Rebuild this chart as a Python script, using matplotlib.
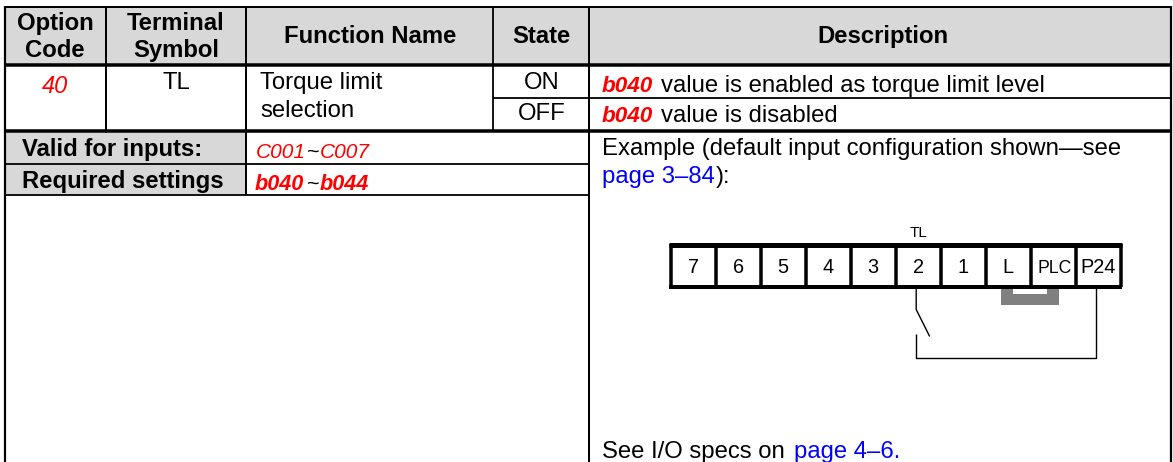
import matplotlib
matplotlib.use("Agg")
import matplotlib.pyplot as plt
from matplotlib.patches import Rectangle

plt.rcParams['font.family'] = ['Liberation Sans', 'DejaVu Sans']

# table contents
header_labels = ["Option\nCode", "Terminal\nSymbol", "Function Name", "State", "Description"]
option_code = "40"
terminal_symbol = "TL"
function_name = ["Torque limit", "selection"]
states = ["ON", "OFF"]
state_params = ["b040", "b040"]
state_texts = ["value is enabled as torque limit level", "value is disabled"]
side_labels = ["Valid for inputs:", "Required settings"]
side_ranges = [("C001", "C007"), ("b040", "b044")]
example_text = "Example (default input configuration shown\u2014see"
example_link = "page 3\u201384"
see_text = "See I/O specs on"
see_link = "page 4\u20136."

# terminal strip of the wiring example
terminals = ["7", "6", "5", "4", "3", "2", "1", "L", "PLC", "P24"]
switch_terminal = "2"
switch_label = "TL"

GRAY = '#d8d8d8'
RED = '#ff0000'
BLUE = '#0000ff'
FS = 17.2


def hline(ax, y, x0, x1, px=1.5, color='black'):
    ax.plot([x0, x1], [y, y], color=color, lw=px * 0.72, solid_capstyle='butt')


def vline(ax, x, y0, y1, px=1.5, color='black'):
    ax.plot([x, x], [y0, y1], color=color, lw=px * 0.72, solid_capstyle='butt')


def seg_text(ax, x, y, s, size=16.2, ha='left', weight='bold'):
    # keypad codes, no seven segment font is installed
    ax.text(x, y, s, color=RED, fontsize=size, fontweight=weight, style='italic', ha=ha, va='baseline')


fig = plt.figure(figsize=(11.73, 4.62), dpi=100)
ax = fig.add_axes([0, 0, 1, 1])
ax.set_xlim(0, 1173)
ax.set_ylim(462, 0)
ax.axis('off')

# shaded cells
ax.add_patch(Rectangle((5, 7), 1166, 57, color=GRAY, lw=0))
ax.add_patch(Rectangle((5, 131), 241, 64, color=GRAY, lw=0))

# grid
col_x = [5.3, 105.7, 245.7, 493.3, 588.7, 1170.7]
hline(ax, 7, 4, 1172, 2)
hline(ax, 65, 4, 1172, 3.5)
hline(ax, 98, 493, 1171, 1.8)
hline(ax, 130.7, 4, 1172, 3.5)
hline(ax, 163.7, 5, 589, 1.8)
hline(ax, 194.7, 5, 589, 1.8)
vline(ax, col_x[0], 6, 462, 2.2)
vline(ax, col_x[1], 6, 132.5, 2)
vline(ax, col_x[2], 6, 195, 2)
vline(ax, col_x[3], 6, 130, 1.8)
vline(ax, col_x[4], 6, 462, 2)
vline(ax, col_x[5], 6, 462, 2.2)

# header row
header_x = [55, 176, 370, 541.5, 882.5]
for x, label in zip(header_x, header_labels):
    lines = label.split("\n")
    ys = [30, 56.7] if len(lines) == 2 else [43.3]
    for y, line in zip(ys, lines):
        ax.text(x, y, line, fontsize=FS, fontweight='bold', ha='center', va='baseline')

# first data row
seg_text(ax, 55, 92.7, option_code, size=17, ha='center', weight='normal')
ax.text(176, 88.7, terminal_symbol, fontsize=FS, ha='center', va='baseline')
ax.text(260, 88.7, function_name[0], fontsize=FS, va='baseline')
ax.text(260, 116.7, function_name[1], fontsize=FS, va='baseline')
ax.text(541.5, 88.7, states[0], fontsize=FS, ha='center', va='baseline')
ax.text(541.5, 120, states[1], fontsize=FS, ha='center', va='baseline')
for y, param, txt in zip([91.7, 122.3], state_params, state_texts):
    seg_text(ax, 602, y, param)
    ax.text(660.7, y, txt, fontsize=FS, va='baseline')

# valid for / required rows
for y, label, (a, b) in zip([155.7, 187.7], side_labels, side_ranges):
    ax.text(22, y, label, fontsize=FS, fontweight='bold', va='baseline')
    if a.startswith("C"):
        seg_text(ax, 256, y + 2.3, a, size=15, weight='normal')
        seg_text(ax, 320, y + 2.3, b, size=15, weight='normal')
    else:
        seg_text(ax, 255, y + 2.3, a, size=15.6)
        seg_text(ax, 320, y + 2.3, b, size=15.6)
    ax.text(307, y + 2.3, "~", fontsize=FS * 0.9, va='baseline')

# description text
ax.text(602.4, 155, example_text, fontsize=FS, va='baseline')
ax.text(602.4, 182.5, example_link, color=BLUE, fontsize=FS, va='baseline')
ax.text(716, 182.5, "):", fontsize=FS, va='baseline')
ax.text(602.4, 458.3, see_text, fontsize=FS, va='baseline')
ax.text(794, 458.3, see_link, color=BLUE, fontsize=FS, va='baseline')

# terminal strip
edges = [670.7 + 45 * i for i in range(len(terminals) + 1)]
hline(ax, 244.5, 669, 1122, 5)
hline(ax, 287, 669, 1122, 4)
for x in edges:
    vline(ax, x, 244, 287, 3.5)
for i, t in enumerate(terminals):
    cx = (edges[i] + edges[i + 1]) / 2
    if t == "PLC":
        ax.text(cx + 1, 272.7, t, fontsize=12.7, ha='center', va='baseline')
    else:
        ax.text(cx, 272.7, t, fontsize=14.3, ha='center', va='baseline')

# jumper between L and PLC
ax.add_patch(Rectangle((1001, 289), 12, 16, color='#808080', lw=0))
ax.add_patch(Rectangle((1047, 289), 12, 16, color='#808080', lw=0))
ax.add_patch(Rectangle((1001, 294), 58, 11, color='#808080', lw=0))

# switch wiring
sw_x = (edges[terminals.index(switch_terminal)] + edges[terminals.index(switch_terminal) + 1]) / 2 - 2
p24_x = 1096
ax.text(sw_x + 2.5, 237.3, switch_label, fontsize=11, ha='center', va='baseline')
wire = dict(color='black', lw=1.0, solid_capstyle='butt')
ax.plot([sw_x, sw_x, sw_x + 13.5], [288, 309.5, 336.5], **wire)
ax.plot([sw_x, sw_x, p24_x, p24_x], [333.5, 357.5, 357.5, 288], **wire)

fig.savefig("out.png", dpi=100)
